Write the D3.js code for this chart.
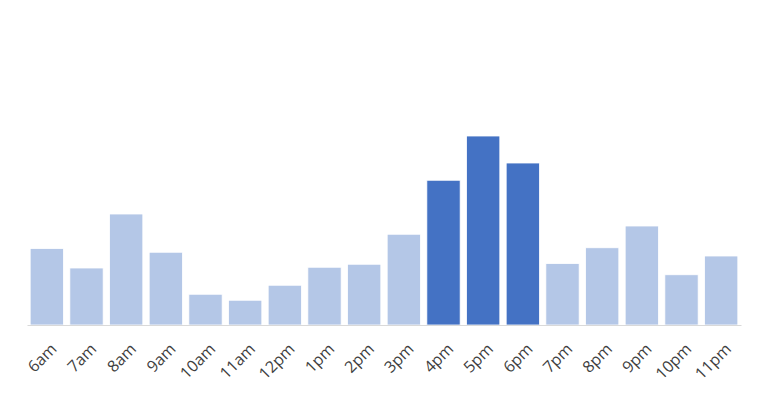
<!DOCTYPE html>
<html><head><meta charset="utf-8">
<script src="https://cdn.jsdelivr.net/npm/d3@7"></script>
<style>body{margin:0;background:#fff}</style>
</head><body>
<svg id="c" width="765" height="400"></svg>
<script>
const categories = ["6am","7am","8am","9am","10am","11am","12pm","1pm","2pm","3pm","4pm","5pm","6pm","7pm","8pm","9pm","10pm","11pm"];
const values = [102,76,148,97,41,33,53,77,81,121,193,252,216,82,103,132,67,92];
const highlighted = ["4pm","5pm","6pm"];

const svg = d3.select("#c");
const x = d3.scaleBand().domain(categories).range([27, 741]).paddingInner(0.16).paddingOuter(0.08);
const y = d3.scaleLinear().domain([0, 400]).range([325, 25]);

svg.append("g").selectAll("rect").data(categories).join("rect")
  .attr("x", d => x(d))
  .attr("width", x.bandwidth())
  .attr("y", (d,i) => y(values[i]))
  .attr("height", (d,i) => y(0) - y(values[i]))
  .attr("fill", d => highlighted.includes(d) ? "#4472c4" : "#b4c7e7")
  .attr("stroke", "#ffffff").attr("stroke-width", 0.8);

const ax = svg.append("g").attr("transform", "translate(0,325)")
  .call(d3.axisBottom(x).tickSize(0).tickPadding(0));
ax.select(".domain").attr("stroke", "#d9d9d9").attr("stroke-width", 1);
ax.selectAll("text")
  .attr("font-family", "Open Sans, Liberation Sans, sans-serif")
  .attr("font-size", 16)
  .attr("fill", "#404040")
  .attr("text-anchor", "end")
  .attr("dy", null)
  .attr("transform", "translate(11,25) rotate(-45)");
</script>
</body></html>
